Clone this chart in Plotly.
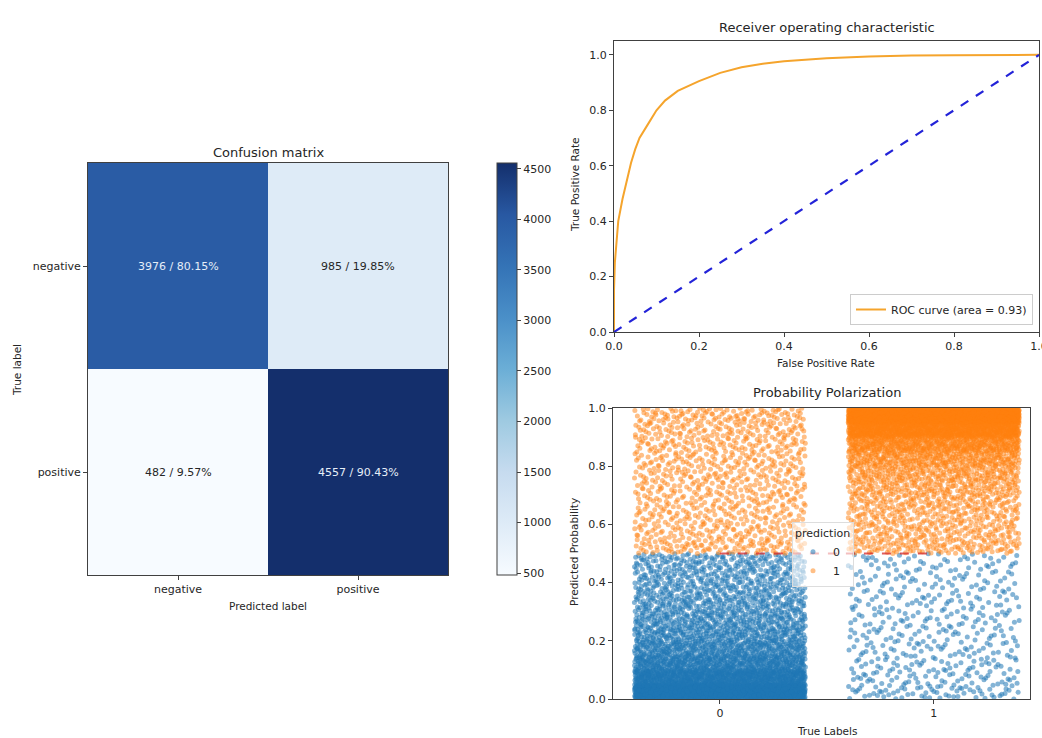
import plotly.graph_objects as go

# ---------------- data ----------------
class_labels = ["negative", "positive"]
cm_counts = [[3976, 985],
             [482, 4557]]
cbar_ticks = [500, 1000, 1500, 2000, 2500, 3000, 3500, 4000, 4500]

roc_fpr = [0.0, 0.0, 0.002, 0.005, 0.01, 0.02, 0.03, 0.04, 0.05, 0.06, 0.08, 0.10, 0.12,
           0.15, 0.20, 0.25, 0.30, 0.35, 0.40, 0.50, 0.60, 0.70, 0.80, 0.90, 1.0]
roc_tpr = [0.0, 0.15, 0.25, 0.32, 0.40, 0.48, 0.55, 0.61, 0.66, 0.70, 0.75, 0.80, 0.835,
           0.87, 0.905, 0.935, 0.955, 0.968, 0.977, 0.988, 0.994, 0.998, 0.999, 1.0, 1.0]
roc_auc = 0.93
chance_x = [0.0, 1.0]
chance_y = [0.0, 1.0]

# strip plot: estimated number of points per 0.05-wide probability bin
bin_width = 0.05
bins_low = [0.00, 0.05, 0.10, 0.15, 0.20, 0.25, 0.30, 0.35, 0.40, 0.45]
bins_high = [0.50, 0.55, 0.60, 0.65, 0.70, 0.75, 0.80, 0.85, 0.90, 0.95]
true0_pred0 = [1300, 700, 450, 340, 270, 230, 200, 175, 160, 151]   # 3976
true0_pred1 = [110, 95, 90, 90, 90, 95, 95, 100, 105, 115]         # 985
true1_pred0 = [70, 55, 50, 48, 45, 45, 45, 42, 40, 42]             # 482
true1_pred1 = [137, 130, 130, 150, 180, 220, 300, 450, 850, 2010]  # 4557
threshold = 0.5
true_classes = [0, 1]

# ---------------- build ----------------
W, H = 1042, 738
def px(x): return x / W
def py(y): return 1 - y / H

blues = [[0.0, "#f7fbff"], [0.125, "#deebf7"], [0.25, "#c6dbef"], [0.375, "#9ecae1"],
         [0.5, "#6baed6"], [0.625, "#4a8fc8"], [0.75, "#3473b6"], [0.875, "#2858a2"],
         [1.0, "#142f6c"]]

FONT = "DejaVu Sans"
TXT = "#262626"
LINE = "#404040"

fig = go.Figure()

zmin = min(min(r) for r in cm_counts)
zmax = max(max(r) for r in cm_counts)
fig.add_trace(go.Heatmap(
    z=cm_counts, x=class_labels, y=class_labels, colorscale=blues,
    zmin=zmin, zmax=zmax, xaxis="x", yaxis="y", showscale=True, hoverinfo="skip",
    colorbar=dict(x=px(497), xanchor="left", thickness=20, thicknessmode="pixels",
                  len=(575 - 163) / H, lenmode="fraction", y=py(369), yanchor="middle",
                  tickvals=cbar_ticks, ticks="outside", ticklen=4, tickcolor=LINE,
                  outlinewidth=1, outlinecolor=LINE, xpad=0, ypad=0,
                  tickfont=dict(family=FONT, size=11, color=TXT)),
))

annotations = []
for i, row in enumerate(cm_counts):
    tot = sum(row)
    for j, v in enumerate(row):
        annotations.append(dict(
            x=class_labels[j], y=class_labels[i], xref="x", yref="y",
            text=f"{v} / {100 * v / tot:.2f}%", showarrow=False,
            font=dict(family=FONT, size=11,
                      color="#e6eef8" if v > (zmin + zmax) / 2 else "#262626")))

# ROC
fig.add_trace(go.Scatter(x=roc_fpr, y=roc_tpr, mode="lines", xaxis="x2", yaxis="y2",
                         line=dict(color="#f5a42c", width=2),
                         name=f"ROC curve (area = {roc_auc:.2f})", legend="legend"))
fig.add_trace(go.Scatter(x=chance_x, y=chance_y, mode="lines", xaxis="x2", yaxis="y2",
                         line=dict(color="#2323d8", width=2.2, dash="dash"),
                         showlegend=False))

# strip plot points: histogram counts spread with a deterministic Halton sequence
def halton(i, b):
    f, r = 1.0, 0.0
    while i > 0:
        f /= b
        r += f * (i % b)
        i //= b
    return r

def expand(label, lows, counts, start):
    n = sum(counts)
    cum = [0]
    for c in counts:
        cum.append(cum[-1] + c)
    xs, ys = [], []
    for k in range(n):
        idx = start + k + 1
        t = halton(idx, 3) * n
        j = 0
        while j < len(counts) - 1 and t >= cum[j + 1]:
            j += 1
        frac = (t - cum[j]) / counts[j]
        ys.append(lows[j] + frac * bin_width)
        xs.append(label + (halton(idx, 2) - 0.5) * 0.8)
    return xs, ys

x00, y00 = expand(true_classes[0], bins_low, true0_pred0, 0)
x10, y10 = expand(true_classes[1], bins_low, true1_pred0, 5000)
x01, y01 = expand(true_classes[0], bins_high, true0_pred1, 7000)
x11, y11 = expand(true_classes[1], bins_high, true1_pred1, 9000)

fig.add_trace(go.Scatter(x=x00 + x10, y=y00 + y10, mode="markers", xaxis="x3", yaxis="y3",
                         marker=dict(color="#1f77b4", size=5, opacity=0.55, line=dict(width=0)),
                         name="0", legend="legend2", hoverinfo="skip"))
fig.add_trace(go.Scatter(x=x01 + x11, y=y01 + y11, mode="markers", xaxis="x3", yaxis="y3",
                         marker=dict(color="#ff7f0e", size=5, opacity=0.5, line=dict(width=0)),
                         name="1", legend="legend2", hoverinfo="skip"))
fig.add_trace(go.Scatter(x=[true_classes[0], true_classes[1]], y=[threshold, threshold],
                         mode="lines", xaxis="x3", yaxis="y3",
                         line=dict(color="#d62728", width=2, dash="dash"), opacity=0.75,
                         showlegend=False))

def axis_common(**kw):
    d = dict(showline=True, mirror=True, linecolor=LINE, linewidth=1, showgrid=False,
             zeroline=False, ticks="outside", ticklen=4, tickcolor=LINE, automargin=False,
             ticklabeloverflow="allow",
             tickfont=dict(family=FONT, size=11, color=TXT))
    d.update(kw)
    return d

def title_ann(text, x, y, size=13, angle=0):
    return dict(text=text, x=px(x), y=py(y), xref="paper", yref="paper", showarrow=False,
                xanchor="center", yanchor="middle", textangle=angle,
                font=dict(family=FONT, size=size, color=TXT))

annotations += [
    title_ann("Confusion matrix", 268, 152),
    title_ann("Predicted label", 268, 606, 10.5),
    title_ann("True label", 17, 370, 10.5, -90),
    title_ann("Receiver operating characteristic", 827, 27),
    title_ann("False Positive Rate", 826, 363, 10.5),
    title_ann("True Positive Rate", 575, 185, 10.5, -90),
    title_ann("Probability Polarization", 827, 393),
    title_ann("True Labels", 827, 731, 10.5),
    title_ann("Predicted Probability", 574, 552, 10.5, -90),
]

fig.update_layout(
    width=W, height=H, margin=dict(l=0, r=0, t=0, b=0, pad=0, autoexpand=False),
    paper_bgcolor="white", plot_bgcolor="white",
    font=dict(family=FONT, color=TXT),
    xaxis=axis_common(domain=[px(88), px(448)], anchor="y", type="category"),
    yaxis=axis_common(domain=[py(575), py(163)], anchor="x", type="category",
                      autorange="reversed"),
    xaxis2=axis_common(domain=[px(614), px(1039)], anchor="y2", range=[0, 1],
                       tickvals=[0, 0.2, 0.4, 0.6, 0.8, 1.0], tickformat=".1f"),
    yaxis2=axis_common(domain=[py(332), py(41)], anchor="x2", range=[0, 1.05],
                       tickvals=[0, 0.2, 0.4, 0.6, 0.8, 1.0], tickformat=".1f"),
    xaxis3=axis_common(domain=[px(613), px(1030)], anchor="y3", range=[-0.5, 1.45],
                       tickvals=true_classes),
    yaxis3=axis_common(domain=[py(699), py(408)], anchor="x3", range=[0, 1],
                       tickvals=[0, 0.2, 0.4, 0.6, 0.8, 1.0], tickformat=".1f"),
    legend=dict(x=px(1033), xanchor="right", y=py(325), yanchor="bottom",
                bgcolor="rgba(255,255,255,0.85)", bordercolor="#cccccc", borderwidth=1,
                font=dict(family=FONT, size=11, color=TXT), itemwidth=30),
    legend2=dict(x=px(792), xanchor="left", y=py(522), yanchor="top",
                 bgcolor="rgba(255,255,255,0.6)", bordercolor="#dddddd", borderwidth=1,
                 title=dict(text="prediction", side="top",
                            font=dict(family=FONT, size=11, color=TXT)),
                 font=dict(family=FONT, size=11, color=TXT), itemsizing="trace"),
    annotations=annotations,
)

fig.write_html("out.html", config={"displayModeBar": False},
               post_script="document.body.style.margin='0';document.body.style.padding='0';")
